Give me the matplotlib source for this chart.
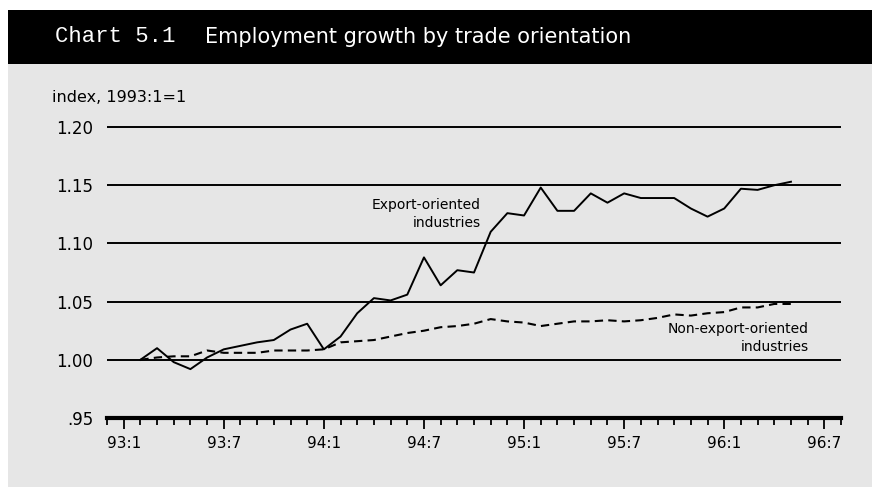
import numpy as np
import matplotlib
matplotlib.use('Agg')
import matplotlib.pyplot as plt
from matplotlib.patches import Rectangle

# months counted from 93:1 (= 0)
months = np.arange(1, 41)

export_oriented = [
    1.000, 1.010, 0.998, 0.992, 1.002, 1.009, 1.012, 1.015, 1.017, 1.026,
    1.031, 1.009, 1.020, 1.040, 1.053, 1.051, 1.056, 1.088, 1.064, 1.077,
    1.075, 1.110, 1.126, 1.124, 1.148, 1.128, 1.128, 1.143, 1.135, 1.143,
    1.139, 1.139, 1.139, 1.130, 1.123, 1.130, 1.147, 1.146, 1.150, 1.153,
]
non_export = [
    1.000, 1.002, 1.003, 1.003, 1.008, 1.006, 1.006, 1.006, 1.008, 1.008,
    1.008, 1.009, 1.015, 1.016, 1.017, 1.020, 1.023, 1.025, 1.028, 1.029,
    1.031, 1.035, 1.033, 1.032, 1.029, 1.031, 1.033, 1.033, 1.034, 1.033,
    1.034, 1.036, 1.039, 1.038, 1.040, 1.041, 1.045, 1.045, 1.048, 1.048,
]

y_ticks = [0.95, 1.00, 1.05, 1.10, 1.15, 1.20]
y_labels = ['.95', '1.00', '1.05', '1.10', '1.15', '1.20']
x_ticks = [0, 6, 12, 18, 24, 30, 36, 42]
x_labels = ['93:1', '93:7', '94:1', '94:7', '95:1', '95:7', '96:1', '96:7']

W, H = 872, 487
fig = plt.figure(figsize=(W / 100, H / 100), dpi=100)
fig.patch.set_facecolor('white')

# panel background and black title bar
fig.patches.append(Rectangle((8 / W, 0), 1 - 8 / W, 1 - 64 / H, transform=fig.transFigure,
                             facecolor='#e6e6e6', edgecolor='none', zorder=-2))
fig.patches.append(Rectangle((8 / W, 1 - 64 / H), 1 - 8 / W, 54 / H, transform=fig.transFigure,
                             facecolor='black', edgecolor='none', zorder=-2))
fig.text(55 / W, 1 - 37 / H, 'Chart 5.1', color='white', fontsize=16,
         family='Liberation Mono', va='center', ha='left')
fig.text(205 / W, 1 - 37 / H, 'Employment growth by trade orientation', color='white',
         fontsize=15, va='center', ha='left')
fig.text(52 / W, 1 - 97 / H, 'index, 1993:1=1', fontsize=11.5, va='center', ha='left')

ax = fig.add_axes([107 / W, 1 - 418 / H, 734 / W, (418 - 115.4) / H])
ax.set_zorder(1)
ax.set_facecolor('none')
ax.set_xlim(-1, 43)
ax.set_ylim(0.95, 1.21)

for v in y_ticks[1:]:
    ax.axhline(v, color='black', lw=1.4, zorder=1)

ax.plot(months, export_oriented, color='black', lw=1.4, zorder=3)
ax.plot(months, non_export, color='black', lw=1.5, ls=(0, (4, 2.5)), zorder=3)

ax.text(21.4, 1.125, 'Export-oriented\nindustries', ha='right', va='center',
        fontsize=10, linespacing=1.35, multialignment='right')
ax.text(41.05, 1.0185, 'Non-export-oriented\nindustries', ha='right', va='center',
        fontsize=10, linespacing=1.35, multialignment='right')

for s in ['top', 'right', 'left']:
    ax.spines[s].set_visible(False)
ax.spines['bottom'].set_linewidth(3)
ax.spines['bottom'].set_position(('data', 0.95))

ax.set_yticks(y_ticks)
ax.set_yticklabels(y_labels, fontsize=12)
ax.tick_params(axis='y', length=0, pad=10)
ax.set_xticks(x_ticks)
ax.set_xticklabels(x_labels, fontsize=11)
ax.set_xticks(np.arange(-1, 44), minor=True)
ax.tick_params(axis='x', which='major', direction='out', length=8, width=1.3, pad=5)
ax.tick_params(axis='x', which='minor', direction='out', length=5, width=1.3)

fig.savefig('out.png', dpi=100)
